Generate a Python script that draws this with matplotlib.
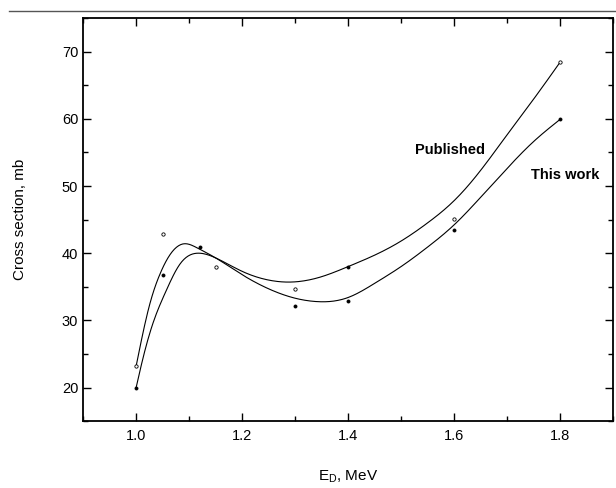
import matplotlib
matplotlib.use('Agg')
import matplotlib.pyplot as plt
from matplotlib.lines import Line2D
from matplotlib.ticker import MultipleLocator
import numpy as np

plt.rcParams['font.family'] = ['Liberation Sans', 'DejaVu Sans']

# measured points
published_e = [1.0, 1.05, 1.15, 1.3, 1.6, 1.8]
published_xs = [23.2, 42.8, 37.9, 34.6, 45.1, 68.5]
this_work_e = [1.0, 1.05, 1.12, 1.3, 1.4, 1.4, 1.6, 1.8]
this_work_xs = [20.0, 36.8, 40.9, 32.1, 32.9, 38.0, 43.4, 59.9]

# fitted curves, knots
published_curve_e = [1.0, 1.013, 1.031, 1.056, 1.082, 1.116, 1.15, 1.2, 1.25,
                     1.29, 1.35, 1.4, 1.45, 1.5, 1.55, 1.6, 1.65, 1.7, 1.75, 1.8]
published_curve = [20.0, 24.4, 29.4, 34.3, 38.3, 40.0, 39.3, 37.3, 36.0,
                   35.7, 36.5, 38.0, 39.7, 41.8, 44.5, 47.8, 52.3, 57.6, 62.9, 68.4]
this_work_curve_e = [1.0, 1.025, 1.045, 1.065, 1.09, 1.115, 1.15, 1.2,
                     1.25, 1.3, 1.34, 1.4, 1.45, 1.5, 1.55, 1.6, 1.65, 1.7,
                     1.75, 1.8]
this_work_curve = [23.2, 32.2, 36.9, 39.9, 41.4, 40.8, 39.3, 36.8,
                   34.7, 33.3, 32.8, 33.4, 35.5, 38.0, 40.9, 44.2, 48.3, 52.6,
                   56.6, 59.9]


def natural_spline(x, y, n=400):
    # natural cubic spline through the knots, evaluated on a fine grid
    x = np.asarray(x, float)
    y = np.asarray(y, float)
    k = len(x)
    h = np.diff(x)
    A = np.zeros((k, k))
    r = np.zeros(k)
    A[0, 0] = A[-1, -1] = 1.0
    for i in range(1, k - 1):
        A[i, i - 1] = h[i - 1]
        A[i, i] = 2 * (h[i - 1] + h[i])
        A[i, i + 1] = h[i]
        r[i] = 6 * ((y[i + 1] - y[i]) / h[i] - (y[i] - y[i - 1]) / h[i - 1])
    m = np.linalg.solve(A, r)
    xs = np.linspace(x[0], x[-1], n)
    j = np.clip(np.searchsorted(x, xs) - 1, 0, k - 2)
    hj = h[j]
    a = x[j + 1] - xs
    b = xs - x[j]
    ys = (m[j] * a ** 3 / (6 * hj) + m[j + 1] * b ** 3 / (6 * hj)
          + (y[j] / hj - m[j] * hj / 6) * a + (y[j + 1] / hj - m[j + 1] * hj / 6) * b)
    return xs, ys


fig = plt.figure(figsize=(6.16, 4.88), dpi=100)
ax = fig.add_axes([0.135, 0.137, 0.86, 0.826])

ax.plot(*natural_spline(published_curve_e, published_curve), color='black', lw=0.8)
ax.plot(*natural_spline(this_work_curve_e, this_work_curve), color='black', lw=0.8)
ax.plot(published_e, published_xs, 'o', ms=2.4, mfc='white', mec='black', mew=0.6)
ax.plot(this_work_e, this_work_xs, 'o', ms=2.2, mfc='black', mec='black', mew=0.6)

ax.text(1.593, 55.3, 'Published', fontsize=10.5, fontweight='bold', ha='center', va='center')
ax.text(1.81, 51.7, 'This work', fontsize=10.5, fontweight='bold', ha='center', va='center')

ax.set_xlim(0.9, 1.9)
ax.set_ylim(15, 75)
ax.xaxis.set_minor_locator(MultipleLocator(0.1))
ax.yaxis.set_major_locator(MultipleLocator(10))
ax.yaxis.set_minor_locator(MultipleLocator(5))
ax.set_xticks([1.0, 1.2, 1.4, 1.6, 1.8])
ax.set_xticklabels(['1.0', '1.2', '1.4', '1.6', '1.8'])
ax.tick_params(which='both', direction='in', top=True, right=True, labelsize=10.5)
ax.tick_params(which='major', length=6, width=1.0)
ax.tick_params(which='minor', length=3.5, width=1.0)
ax.tick_params(axis='x', pad=6)
for s in ax.spines.values():
    s.set_linewidth(1.3)

ax.set_xlabel(r'E$_\mathregular{D}$, MeV', fontsize=11, labelpad=18)
ax.set_ylabel('Cross section, mb', fontsize=11, labelpad=25)

# scan edge line across the top of the page
fig.add_artist(Line2D([0.015, 1.0], [0.977, 0.977], color='#555555', lw=1.0))

fig.savefig('out.png', dpi=100, facecolor='white')
